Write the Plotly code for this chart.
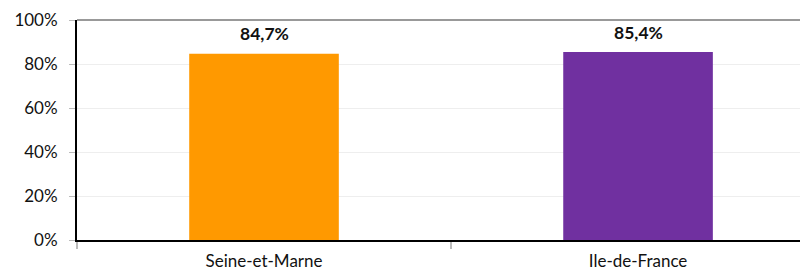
import plotly.graph_objects as go

categories = ["Seine-et-Marne", "Ile-de-France"]
values = [84.7, 85.4]
labels = ["84,7%", "85,4%"]
colors = ["#FF9900", "#7030A0"]
ytick_vals = [0, 20, 40, 60, 80, 100]
ytick_text = ["0%", "20%", "40%", "60%", "80%", "100%"]

FONT = "Lato, Liberation Sans, sans-serif"

fig = go.Figure()
fig.add_trace(go.Bar(
    x=categories, y=values, marker=dict(color=colors, line=dict(width=0)),
    width=0.4,
))
for c, v, t in zip(categories, values, labels):
    fig.add_annotation(x=c, y=v, text=f"<b>{t}</b>", showarrow=False,
                       yanchor="middle", yshift=20,
                       font=dict(family=FONT, size=17.5, color="#111111"))

fig.update_layout(
    width=800, height=273,
    margin=dict(l=77, r=0, t=20, b=33, autoexpand=False),
    paper_bgcolor="white", plot_bgcolor="white",
    showlegend=False,
    font=dict(family=FONT, size=17, color="#111111"),
    shapes=[dict(type="line", xref="paper", yref="paper", x0=0, x1=1, y0=1, y1=1,
                 line=dict(color="#999999", width=2), layer="above")],
)
fig.update_xaxes(
    type="category", range=[-0.5, 1.433], automargin=False,
    showline=True, linecolor="#000000", linewidth=2,
    ticks="outside", tickson="boundaries", ticklen=7, tickcolor="#BBBBBB", tickwidth=2,
    showgrid=False, tickfont=dict(size=17), ticklabelstandoff=5,
)
fig.update_yaxes(
    range=[0, 100], tickvals=ytick_vals, ticktext=ytick_text, automargin=False,
    showline=True, linecolor="#000000", linewidth=2,
    ticks="outside", ticklen=6, tickcolor="#BBBBBB", tickwidth=1,
    showgrid=True, gridcolor="#EEEEEE", gridwidth=1,
    tickfont=dict(size=17), zeroline=False, ticklabelstandoff=8,
)

fig.write_html("out.html", config={"displayModeBar": False},
               post_script="document.body.style.margin='0';document.body.style.overflow='hidden';")
